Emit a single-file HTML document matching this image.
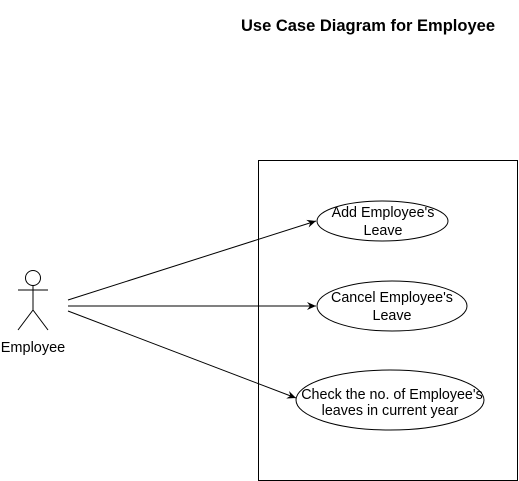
<!DOCTYPE html>
<html><head><meta charset="utf-8"><style>html,body{margin:0;padding:0;background:#fff}svg{display:block}</style></head>
<body>
<svg width="519" height="481" viewBox="0 0 519 481" xmlns="http://www.w3.org/2000/svg" font-family="Liberation Sans, Arial, sans-serif">
<defs><marker id="a" markerWidth="10" markerHeight="10" refX="9" refY="5" orient="auto" markerUnits="userSpaceOnUse"><path d="M0,1 L9,5 L0,9 L3,5 Z" fill="#000"/></marker></defs>
<text x="368" y="31" text-anchor="middle" font-size="16.5" font-weight="bold">Use Case Diagram for Employee</text>
<rect x="258.5" y="160.5" width="259" height="320" fill="#fff" stroke="#000"/>
<g fill="none" stroke="#000" stroke-width="1">
<circle cx="33" cy="278" r="7.5"/>
<line x1="33" y1="285.5" x2="33" y2="310"/>
<line x1="18" y1="290" x2="48" y2="290"/>
<line x1="33" y1="310" x2="18" y2="330"/>
<line x1="33" y1="310" x2="48" y2="330"/>
<line x1="68" y1="300" x2="316" y2="221" marker-end="url(#a)"/>
<line x1="68" y1="306" x2="316" y2="306" marker-end="url(#a)"/>
<line x1="68" y1="311" x2="296" y2="398" marker-end="url(#a)"/>
<ellipse cx="382.5" cy="221" rx="65.5" ry="20" fill="#fff"/>
<ellipse cx="392" cy="306" rx="75" ry="25" fill="#fff"/>
<ellipse cx="390" cy="400" rx="94" ry="30" fill="#fff"/>
</g>
<text x="33" y="352" text-anchor="middle" font-size="14.5">Employee</text>
<g font-size="14.3" text-anchor="middle">
<text x="383" y="217">Add Employee's</text><text x="383" y="235">Leave</text>
<text x="392" y="302">Cancel Employee's</text><text x="392" y="320">Leave</text>
<text x="392" y="399">Check the no. of Employee's</text><text x="390" y="415">leaves in current year</text>
</g>
</svg>
</body></html>
